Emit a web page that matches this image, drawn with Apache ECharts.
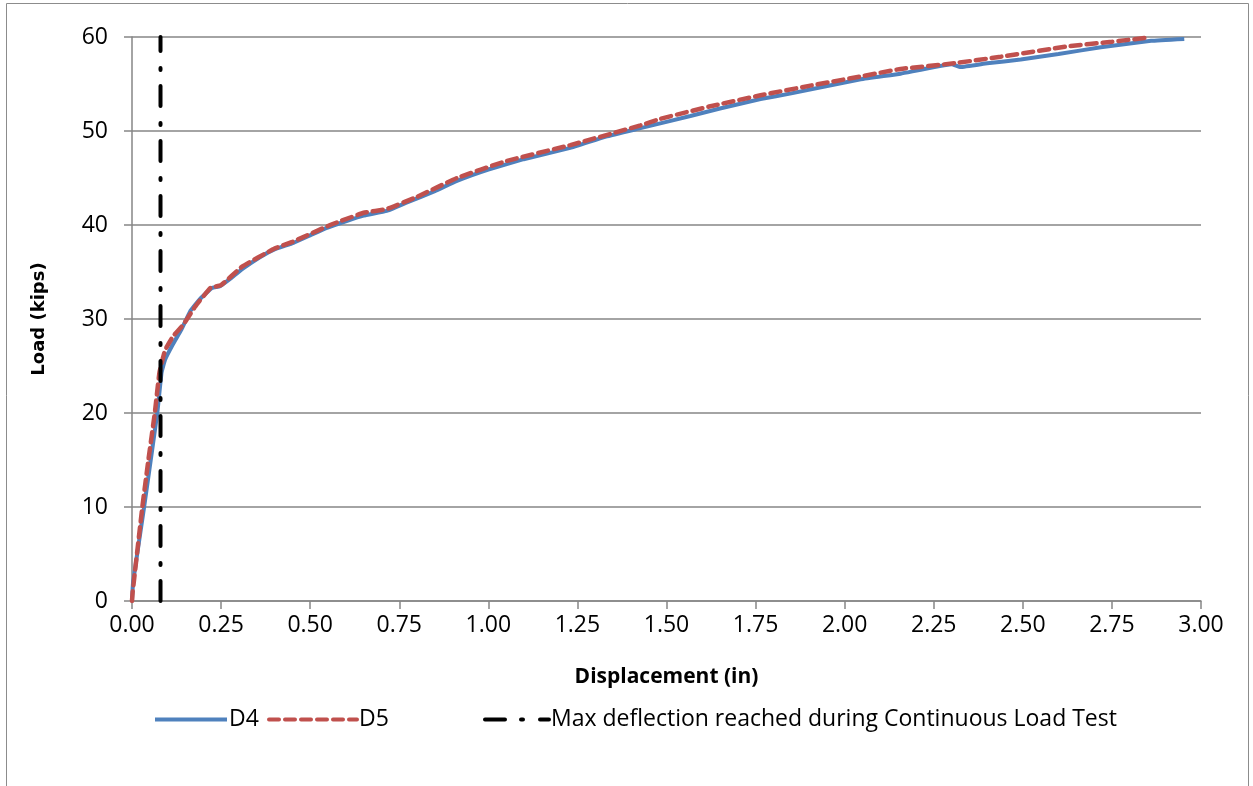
<!DOCTYPE html>
<html>
<head>
<meta charset="utf-8">
<script src="https://cdn.jsdelivr.net/npm/echarts@6/dist/echarts.min.js"></script>
<style>
  html, body { margin: 0; padding: 0; background: #fff; }
  #chart { width: 1253px; height: 786px; }
</style>
</head>
<body>
<div id="chart"></div>
<script>
// D4 displacement (in) / load (kips)
const d4Disp = [0, 0.003, 0.034, 0.071, 0.083, 0.093, 0.116, 0.139, 0.163, 0.19, 0.224, 0.247, 0.28, 0.313, 0.36, 0.40, 0.453, 0.50, 0.547, 0.60, 0.65, 0.715, 0.772, 0.85, 0.912, 1.00, 1.099, 1.23, 1.33, 1.427, 1.567, 1.65, 1.764, 1.85, 2.045, 2.157, 2.30, 2.325, 2.40, 2.494, 2.60, 2.719, 2.86, 2.953]
const d4Load = [0, 2, 10, 20, 24.3, 25.7, 27.4, 28.9, 30.8, 32.1, 33.3, 33.5, 34.4, 35.4, 36.6, 37.4, 38.1, 38.9, 39.7, 40.4, 41.0, 41.5, 42.4, 43.6, 44.7, 45.9, 47.0, 48.2, 49.4, 50.3, 51.6, 52.4, 53.4, 54.0, 55.5, 56.1, 57.1, 56.8, 57.2, 57.6, 58.2, 58.9, 59.6, 59.8]

// D5 displacement (in) / load (kips)
const d5Disp = [0, 0.002, 0.029, 0.046, 0.064, 0.077, 0.093, 0.116, 0.144, 0.177, 0.22, 0.25, 0.31, 0.40, 0.45, 0.55, 0.584, 0.65, 0.715, 0.80, 0.912, 1.05, 1.23, 1.427, 1.483, 1.62, 1.764, 1.90, 2.045, 2.157, 2.307, 2.438, 2.625, 2.75, 2.845]
const d5Load = [0, 1, 10, 15, 20, 24.3, 26.7, 28.2, 29.4, 31.3, 33.3, 33.6, 35.6, 37.5, 38.2, 39.9, 40.4, 41.3, 41.7, 43.0, 45.0, 46.8, 48.5, 50.6, 51.3, 52.6, 53.8, 54.8, 55.8, 56.6, 57.2, 57.9, 59.0, 59.5, 59.9]

// max deflection reached during the continuous load test
const maxDisp = [0.08, 0.08]
const maxLoad = [0, 60]

const seriesNames = ['D4', 'D5', 'Max deflection reached during Continuous Load Test']

const zip = (xs, ys) => xs.map((x, i) => [x, ys[i]])

const chart = echarts.init(document.getElementById('chart'))
const font = '"Open Sans", sans-serif'

// one legend per entry so each sits where Excel put it
const legendAt = (name, left, width) => ({
  data: [name],
  left: left,
  top: 703,
  itemWidth: width,
  itemHeight: 14,
  itemStyle: { opacity: 0 },
  lineStyle: { width: 4 },
  textStyle: { fontFamily: font, fontSize: 23, color: '#000', padding: [0, 0, 0, -3] }
})

chart.setOption({
  animation: false,
  backgroundColor: '#fff',
  graphic: [{
    type: 'rect',
    shape: { x: 6.5, y: 3.5, width: 1242, height: 820 },
    style: { fill: 'none', stroke: '#8c8c8c', lineWidth: 1 },
    silent: true
  }],
  grid: { left: 132, right: 52, top: 37, bottom: 185 },
  legend: [
    legendAt(seriesNames[0], 148, 72),
    legendAt(seriesNames[1], 262, 88),
    legendAt(seriesNames[2], 478, 64)
  ],
  xAxis: {
    type: 'value',
    min: 0,
    max: 3,
    interval: 0.25,
    name: 'Displacement (in)',
    nameLocation: 'middle',
    nameGap: 66,
    nameTextStyle: { fontFamily: font, fontSize: 21, fontWeight: 'bold', color: '#000' },
    axisLine: { onZero: false, lineStyle: { color: '#868686', width: 1.5 } },
    axisTick: { show: true, length: 8, lineStyle: { color: '#868686', width: 1.5 } },
    axisLabel: { fontFamily: font, fontSize: 23, color: '#000', margin: 13, formatter: v => v.toFixed(2) },
    splitLine: { show: false }
  },
  yAxis: {
    type: 'value',
    min: 0,
    max: 60,
    interval: 10,
    name: 'Load (kips)',
    nameLocation: 'middle',
    nameGap: 84,
    nameTextStyle: { fontFamily: '"DejaVu Sans", sans-serif', fontSize: 18, fontWeight: 'bold', color: '#000' },
    axisLine: { show: true, lineStyle: { color: '#868686', width: 1.5 } },
    axisTick: { show: true, length: 8, lineStyle: { color: '#868686', width: 1.5 } },
    axisLabel: { fontFamily: font, fontSize: 23, color: '#000', margin: 24 },
    splitLine: { lineStyle: { color: '#868686', width: 1.5 } }
  },
  series: [
    {
      name: seriesNames[0],
      type: 'line',
      data: zip(d4Disp, d4Load),
      symbol: 'none',
      smooth: 0.1,
      lineStyle: { color: '#4f81bd', width: 4 },
      itemStyle: { color: '#4f81bd' },
      z: 2
    },
    {
      name: seriesNames[1],
      type: 'line',
      data: zip(d5Disp, d5Load),
      symbol: 'none',
      smooth: 0.1,
      lineStyle: { color: '#c0504d', width: 4.5, type: [10, 6], cap: 'round' },
      itemStyle: { color: '#c0504d' },
      z: 3
    },
    {
      name: seriesNames[2],
      type: 'line',
      data: zip(maxDisp, maxLoad),
      symbol: 'none',
      lineStyle: { color: '#000', width: 4, type: [20, 16, 2, 17], cap: 'round' },
      itemStyle: { color: '#000' },
      z: 4
    }
  ]
})
</script>
</body>
</html>
